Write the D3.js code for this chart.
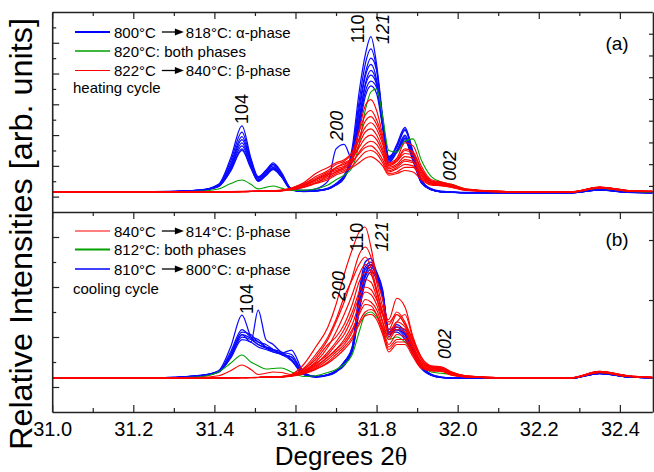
<!DOCTYPE html>
<html><head><meta charset="utf-8">
<script src="https://cdn.jsdelivr.net/npm/d3@7/dist/d3.min.js"></script>
<style>body{margin:0;background:#fff}svg{display:block}</style>
</head><body>
<svg id="c" width="654" height="472"></svg>
<script>
// ---------------- DATA ----------------
const twoTheta = [31.00,31.25,31.36,31.41,31.44,31.468,31.49,31.508,31.527,31.545,31.565,31.59,31.62,31.65,31.68,31.70,31.72,31.74,31.757,31.772,31.786,31.80,31.815,31.83,31.85,31.87,31.89,31.91,31.935,31.96,31.985,32.02,32.12,32.28,32.35,32.42,32.48];
const xTickLabels = ["31.0","31.2","31.4","31.6","31.8","32.0","32.2","32.4"];
const xTickValues = [31.0,31.2,31.4,31.6,31.8,32.0,32.2,32.4];
const xMinorValues = [31.1,31.3,31.5,31.7,31.9,32.1,32.3];

// (a) heating cycle
const heatBlue = [
 [1.3,1.3,1.4,1.8,3.5,5.6,3.5,2.3,2.7,3.2,2.6,1.5,1.35,1.4,1.55,1.8,2.3,4.2,7.8,10.2,11.4,9.6,6.2,3.4,4.4,5.5,3.8,2.1,1.5,1.35,1.3,1.25,1.25,1.25,1.45,1.3,1.25],
 [1.28,1.3,1.38,1.75,3.3,5.2,3.4,2.2,2.6,3.1,2.5,1.45,1.35,1.38,1.5,1.75,2.2,3.9,7.2,9.6,10.6,9.3,6.0,3.5,4.3,5.4,3.9,2.0,1.45,1.3,1.28,1.25,1.27,1.25,1.42,1.28,1.25],
 [1.3,1.32,1.4,1.7,3.1,4.9,3.3,2.25,2.7,3.1,2.5,1.5,1.38,1.4,1.5,1.8,2.3,3.6,6.8,9.0,10.0,9.2,6.0,3.6,4.2,5.3,3.7,2.1,1.5,1.33,1.3,1.27,1.25,1.27,1.45,1.3,1.27],
 [1.27,1.3,1.42,1.7,3.0,4.7,3.2,2.1,2.5,2.9,2.4,1.45,1.33,1.37,1.52,1.85,2.4,3.7,6.5,8.8,9.6,8.6,5.6,3.3,4.0,5.0,3.6,2.0,1.45,1.32,1.28,1.26,1.26,1.26,1.44,1.29,1.26],
 [1.3,1.3,1.4,1.72,2.9,4.5,3.1,2.2,2.6,3.0,2.45,1.5,1.4,1.5,2.0,4.1,4.4,3.4,5.9,8.3,9.2,8.4,5.6,3.2,3.9,4.9,3.5,1.9,1.45,1.3,1.28,1.25,1.25,1.25,1.43,1.3,1.25],
 [1.3,1.31,1.38,1.68,2.8,4.3,3.0,2.05,2.45,2.85,2.35,1.45,1.35,1.36,1.48,1.75,2.2,3.5,6.1,8.2,8.9,8.3,5.7,3.4,3.9,4.8,3.5,2.0,1.48,1.3,1.28,1.26,1.26,1.26,1.46,1.3,1.26],
 [1.29,1.3,1.4,1.65,2.7,4.1,2.9,2.0,2.4,2.8,2.3,1.42,1.34,1.38,1.5,1.8,2.3,3.4,5.7,7.8,8.5,8.1,5.9,3.6,4.0,4.7,3.4,1.95,1.45,1.31,1.28,1.25,1.25,1.25,1.44,1.29,1.25],
 [1.3,1.3,1.4,1.66,2.65,4.0,2.85,2.0,2.35,2.75,2.3,1.45,1.35,1.37,1.5,1.78,2.25,3.3,5.4,7.5,8.2,7.7,5.5,3.5,3.9,4.6,3.3,1.95,1.45,1.3,1.28,1.26,1.26,1.26,1.43,1.29,1.26]
];
const heatGreen = [
 [1.3,1.3,1.35,1.5,1.85,2.08,1.8,1.5,1.6,1.69,1.55,1.4,1.42,1.5,1.75,2.1,2.4,2.9,4.4,6.6,7.8,8.0,6.2,4.0,3.9,4.6,4.75,3.4,2.3,1.95,1.8,1.5,1.3,1.3,1.55,1.35,1.3]
];
const heatRed = [
 [1.3,1.32,1.3,1.32,1.33,1.33,1.35,1.35,1.37,1.38,1.4,1.5,1.75,2.1,2.5,2.8,3.0,3.6,5.3,6.9,7.3,6.6,5.0,3.1,3.4,4.1,3.9,2.8,2.0,1.9,1.75,1.45,1.32,1.3,1.62,1.4,1.35],
 [1.28,1.3,1.3,1.3,1.32,1.33,1.34,1.35,1.36,1.38,1.4,1.55,1.9,2.5,2.9,3.2,3.4,3.9,5.2,6.3,6.6,6.0,4.8,3.2,3.5,4.5,4.3,3.0,2.1,1.95,1.8,1.5,1.33,1.3,1.6,1.38,1.33],
 [1.31,1.3,1.32,1.31,1.33,1.34,1.35,1.36,1.37,1.39,1.42,1.5,1.7,2.0,2.4,2.9,3.1,3.5,4.8,5.9,6.2,5.7,4.6,3.0,3.3,4.0,3.8,2.7,2.0,1.85,1.7,1.45,1.32,1.31,1.6,1.4,1.34],
 [1.3,1.31,1.3,1.32,1.32,1.33,1.34,1.35,1.36,1.38,1.4,1.52,1.8,2.3,2.7,3.1,3.3,3.8,4.7,5.5,5.8,5.4,4.4,3.1,3.3,3.8,3.7,2.8,2.0,1.9,1.75,1.48,1.33,1.3,1.62,1.4,1.35],
 [1.29,1.3,1.31,1.3,1.31,1.32,1.33,1.35,1.36,1.37,1.39,1.5,1.7,2.1,2.5,2.7,2.9,3.4,4.4,5.2,5.4,5.0,4.1,2.9,3.1,3.6,3.5,2.6,1.95,1.85,1.7,1.45,1.32,1.3,1.58,1.38,1.34],
 [1.3,1.3,1.3,1.31,1.32,1.33,1.34,1.35,1.36,1.38,1.41,1.55,1.85,2.2,2.6,2.9,3.2,3.5,4.2,4.8,5.0,4.7,3.9,2.8,3.0,3.4,3.3,2.5,1.9,1.8,1.7,1.45,1.32,1.31,1.6,1.39,1.34],
 [1.31,1.31,1.3,1.3,1.32,1.33,1.33,1.34,1.35,1.37,1.39,1.48,1.65,1.9,2.3,2.6,2.8,3.2,3.9,4.4,4.6,4.4,3.7,2.7,2.9,3.3,3.2,2.4,1.85,1.75,1.65,1.42,1.31,1.3,1.57,1.37,1.33],
 [1.3,1.3,1.31,1.31,1.32,1.32,1.33,1.34,1.35,1.36,1.38,1.5,1.75,2.1,2.4,2.6,2.9,3.3,3.8,4.2,4.3,4.0,3.4,2.6,2.8,3.1,3.0,2.3,1.85,1.78,1.66,1.44,1.32,1.31,1.6,1.38,1.33],
 [1.29,1.3,1.3,1.31,1.31,1.32,1.33,1.34,1.35,1.36,1.38,1.46,1.62,1.9,2.2,2.5,2.7,3.0,3.5,3.9,4.0,3.8,3.2,2.5,2.6,2.9,2.9,2.2,1.8,1.72,1.62,1.42,1.31,1.3,1.56,1.37,1.33],
 [1.3,1.3,1.31,1.3,1.31,1.32,1.33,1.33,1.34,1.35,1.37,1.45,1.6,1.85,2.1,2.4,2.6,2.9,3.2,3.5,3.6,3.4,3.0,2.4,2.5,2.7,2.6,2.1,1.75,1.7,1.6,1.4,1.31,1.3,1.55,1.36,1.32]
];

// (b) cooling cycle
const coolRed = [
 [1.36,1.36,1.37,1.37,1.38,1.38,1.38,1.38,1.39,1.4,1.42,1.5,1.9,2.6,3.4,4.3,5.5,6.5,7.2,7.4,6.6,5.4,4.5,3.6,3.9,3.5,2.9,2.2,1.85,1.8,1.6,1.45,1.37,1.37,1.62,1.45,1.4],
 [1.36,1.36,1.38,1.45,1.65,1.88,1.7,1.5,1.55,1.6,1.58,1.5,1.7,2.2,2.9,3.6,4.4,5.4,6.3,6.6,6.2,5.2,4.2,3.5,4.0,3.6,2.8,2.1,1.8,1.75,1.58,1.44,1.37,1.36,1.6,1.44,1.38],
 [1.37,1.36,1.36,1.37,1.37,1.38,1.38,1.39,1.4,1.4,1.42,1.48,1.75,2.3,3.0,3.7,4.6,5.3,5.9,6.2,5.8,4.9,3.9,3.3,3.9,3.5,2.7,2.0,1.8,1.75,1.55,1.43,1.37,1.37,1.63,1.44,1.39],
 [1.36,1.37,1.36,1.36,1.37,1.37,1.38,1.38,1.39,1.4,1.41,1.46,1.65,2.0,2.6,3.2,3.9,4.7,5.5,5.9,5.6,4.8,4.0,3.2,3.6,3.4,2.6,2.0,1.75,1.72,1.55,1.42,1.36,1.36,1.6,1.43,1.38],
 [1.35,1.36,1.36,1.37,1.37,1.38,1.38,1.38,1.39,1.39,1.41,1.47,1.7,2.1,2.7,3.0,3.5,4.3,5.2,5.6,5.5,4.9,3.9,3.1,3.6,3.9,2.9,2.1,1.78,1.76,1.58,1.44,1.37,1.37,1.62,1.45,1.39],
 [1.36,1.36,1.37,1.36,1.37,1.38,1.37,1.38,1.39,1.4,1.41,1.45,1.6,1.9,2.4,2.8,3.3,4.0,4.8,5.3,5.2,4.6,3.6,2.9,3.3,3.2,2.5,1.9,1.72,1.7,1.52,1.42,1.36,1.36,1.6,1.43,1.38],
 [1.36,1.36,1.36,1.37,1.37,1.37,1.38,1.38,1.39,1.39,1.41,1.46,1.62,1.95,2.3,2.7,3.1,3.8,4.6,5.0,4.9,4.5,3.9,3.7,4.55,4.2,3.0,2.2,1.82,1.8,1.6,1.45,1.37,1.37,1.63,1.45,1.39],
 [1.36,1.36,1.37,1.37,1.37,1.38,1.38,1.38,1.38,1.39,1.4,1.45,1.58,1.8,2.2,2.5,2.9,3.5,4.3,4.8,4.7,4.3,3.6,3.0,3.4,3.3,2.6,1.95,1.75,1.7,1.54,1.42,1.37,1.36,1.6,1.44,1.38],
 [1.36,1.36,1.36,1.36,1.37,1.37,1.38,1.38,1.39,1.39,1.4,1.44,1.55,1.75,2.1,2.4,2.7,3.2,4.0,4.5,4.4,4.1,3.4,2.7,3.1,3.0,2.4,1.85,1.7,1.68,1.5,1.41,1.36,1.36,1.58,1.43,1.37],
 [1.36,1.37,1.37,1.37,1.37,1.38,1.38,1.38,1.39,1.4,1.41,1.45,1.6,1.85,2.2,2.5,2.8,3.3,3.9,4.3,4.25,3.9,3.2,2.6,2.9,2.9,2.3,1.8,1.68,1.66,1.5,1.41,1.37,1.37,1.6,1.44,1.38],
 [1.36,1.36,1.36,1.37,1.37,1.37,1.38,1.38,1.38,1.39,1.4,1.43,1.52,1.7,2.0,2.3,2.6,3.0,3.6,4.0,4.1,3.9,3.3,2.5,2.8,2.8,2.3,1.8,1.66,1.64,1.48,1.4,1.36,1.36,1.58,1.42,1.37],
 [1.36,1.36,1.37,1.36,1.37,1.38,1.37,1.38,1.39,1.39,1.4,1.44,1.55,1.72,1.95,2.2,2.5,2.9,3.5,3.85,3.9,3.7,3.1,2.4,2.7,2.7,2.2,1.75,1.64,1.62,1.47,1.4,1.36,1.36,1.58,1.42,1.37]
];
const coolGreen = [
 [1.36,1.36,1.4,1.6,1.95,2.28,2.0,1.85,1.72,1.74,1.76,1.6,1.42,1.45,1.58,1.7,1.9,2.3,3.2,3.9,4.0,3.8,3.4,2.9,3.0,2.8,2.4,1.9,1.6,1.55,1.5,1.42,1.36,1.36,1.58,1.42,1.37]
];
const coolBlue = [
 [1.36,1.37,1.45,1.65,2.6,3.88,3.0,2.7,2.6,2.5,2.3,2.2,1.55,1.42,1.5,1.65,1.9,2.6,4.8,6.0,6.15,5.6,4.8,3.2,3.4,3.3,2.6,1.9,1.5,1.4,1.37,1.36,1.35,1.35,1.55,1.4,1.36],
 [1.36,1.37,1.45,1.6,2.2,3.1,2.8,4.08,2.9,2.7,2.4,2.3,1.55,1.42,1.48,1.62,1.85,2.5,4.6,5.8,6.0,5.5,4.7,3.1,3.3,3.2,2.5,1.85,1.5,1.4,1.37,1.36,1.35,1.35,1.55,1.4,1.36],
 [1.36,1.36,1.44,1.6,2.4,3.3,3.0,2.9,2.6,2.5,2.4,2.1,1.5,1.4,1.48,1.6,2.0,2.6,4.5,5.7,5.9,5.4,4.6,3.0,3.5,3.2,2.5,1.8,1.48,1.38,1.36,1.36,1.35,1.35,1.54,1.4,1.36],
 [1.37,1.37,1.46,1.62,2.3,3.2,3.1,2.8,2.7,2.5,2.3,2.2,1.52,1.42,1.5,1.65,2.0,2.5,4.3,5.5,5.8,5.5,4.8,3.3,3.4,3.1,2.4,1.8,1.48,1.38,1.36,1.35,1.35,1.36,1.56,1.4,1.36],
 [1.36,1.36,1.43,1.58,2.2,3.0,2.9,2.7,2.55,2.45,2.35,2.1,1.5,1.4,1.46,1.6,1.95,2.4,4.1,5.4,5.7,5.3,4.6,3.1,3.3,3.0,2.4,1.8,1.47,1.38,1.36,1.36,1.35,1.35,1.55,1.4,1.36],
 [1.36,1.37,1.44,1.6,2.15,2.9,2.8,2.6,2.5,2.4,2.3,2.05,1.5,1.41,1.47,1.62,2.0,2.5,4.0,5.2,5.6,5.4,4.7,3.2,3.2,2.9,2.3,1.75,1.46,1.37,1.36,1.35,1.35,1.35,1.54,1.4,1.36],
 [1.36,1.36,1.45,1.62,2.3,3.1,2.95,2.8,2.6,2.4,2.35,2.48,1.6,1.42,1.48,1.63,1.95,2.45,4.2,5.5,5.9,5.6,4.9,3.2,3.3,3.1,2.5,1.85,1.5,1.38,1.36,1.36,1.35,1.35,1.55,1.4,1.36]
];

// left-axis tick values (arb. units) and right-axis tick values
const topLeftMajor = [1,3,5,7,9,11];
const topLeftMinor = [2,4,6,8,10,12];
const botLeftMajor = [1,3,5,7];
const botLeftMinor = [2,4,6];
const topRightTicks = [1,2,3,4,5,6,7,8];
const botRightTicks = [1,2,3];

// peak labels: position = centre of the rotated text
const peakLabelsTop = [
  {t:"104", x:31.4675, y:6.7, it:false},
  {t:"200", x:31.702, y:5.6, it:true},
  {t:"110", x:31.753, y:11.9, it:false},
  {t:"121", x:31.816, y:11.9, it:true},
  {t:"002", x:31.981, y:3.0, it:true}
];
const peakLabelsBot = [
  {t:"104", x:31.4805, y:4.52, it:false},
  {t:"200", x:31.707, y:5.04, it:true},
  {t:"110", x:31.752, y:7.0, it:false},
  {t:"121", x:31.813, y:7.02, it:true},
  {t:"002", x:31.969, y:2.72, it:true}
];

const legendTop = [
  {c:"#0000ff", w:2.2, a:"800°C", b:"818°C: α-phase"},
  {c:"#00a000", w:1.5, a:"820°C: both phases", b:null},
  {c:"#ff0000", w:1.2, a:"822°C", b:"840°C: β-phase"}
];
const legendBot = [
  {c:"#ff0000", w:1.2, a:"840°C", b:"814°C: β-phase"},
  {c:"#00a000", w:2.0, a:"812°C: both phases", b:null},
  {c:"#0000ff", w:1.5, a:"810°C", b:"800°C: α-phase"}
];

// ---------------- DRAW ----------------
const FONT = "'Liberation Sans', Arial, Helvetica, sans-serif";
const svg = d3.select("#c");
const L = 52.2, R = 653;
const x = d3.scaleLinear().domain([31.0, 32.48]).range([L, 652.3]);
const yTop = d3.scaleLinear().domain([0, 13]).range([212, 12]);
const yBot = d3.scaleLinear().domain([0, 8]).range([412, 212]);
const yTopR = d3.scaleLinear().domain([-0.2, 9.0]).range([212, 12]);
const yBotR = d3.scaleLinear().domain([0.133, 3.467]).range([412, 212]);

const defs = svg.append("defs");
defs.append("clipPath").attr("id","clipT").append("rect").attr("x",L).attr("y",12).attr("width",R-L).attr("height",200);
defs.append("clipPath").attr("id","clipB").append("rect").attr("x",L).attr("y",212).attr("width",R-L).attr("height",200);

function drawSeries(g, y, sets) {
  const line = d3.line().x((d,i)=>x(twoTheta[i])).y(d=>y(d)).curve(d3.curveMonotoneX);
  sets.forEach(([arr,color,w])=>{
    g.selectAll(null).data(arr).enter().append("path")
      .attr("d", line).attr("fill","none").attr("stroke",color)
      .attr("stroke-width",w).attr("stroke-linejoin","round");
  });
}
drawSeries(svg.append("g").attr("clip-path","url(#clipT)"), yTop,
  [[heatBlue,"#0a0aff",1.25],[heatGreen,"#00a000",1.1],[heatRed,"#ff0000",1.15]]);
drawSeries(svg.append("g").attr("clip-path","url(#clipB)"), yBot,
  [[coolBlue,"#0a0aff",1.25],[coolGreen,"#00a000",1.1],[coolRed,"#ff0000",1.15]]);

// axes
const axCol = "#222";
function styleAxis(g){ g.select(".domain").attr("stroke",axCol).attr("stroke-width",1.6);
  g.selectAll(".tick line").attr("stroke",axCol).attr("stroke-width",1.2); }

const gb = svg.append("g").attr("transform","translate(0,412)")
  .call(d3.axisBottom(x).tickValues(xTickValues).tickFormat((d,i)=>xTickLabels[i]).tickSizeInner(-7).tickSizeOuter(0).tickPadding(10));
styleAxis(gb);
gb.selectAll("text").attr("font-family",FONT).attr("font-size",20).attr("fill","#000");
const gbm = svg.append("g").attr("transform","translate(0,412)")
  .call(d3.axisBottom(x).tickValues(xMinorValues).tickFormat("").tickSizeInner(-4).tickSizeOuter(0));
styleAxis(gbm); gbm.select(".domain").remove();

[12,212].forEach(yy=>{
  const g1 = svg.append("g").attr("transform",`translate(0,${yy})`)
    .call(d3.axisTop(x).tickValues(xTickValues).tickFormat("").tickSizeInner(-7).tickSizeOuter(0));
  styleAxis(g1);
  const g2 = svg.append("g").attr("transform",`translate(0,${yy})`)
    .call(d3.axisTop(x).tickValues(xMinorValues).tickFormat("").tickSizeInner(-4).tickSizeOuter(0));
  styleAxis(g2); g2.select(".domain").remove();
});

function leftAxis(y, major, minor){
  const g1 = svg.append("g").attr("transform",`translate(${L},0)`)
    .call(d3.axisLeft(y).tickValues(major).tickFormat("").tickSizeInner(-7).tickSizeOuter(0));
  styleAxis(g1);
  const g2 = svg.append("g").attr("transform",`translate(${L},0)`)
    .call(d3.axisLeft(y).tickValues(minor).tickFormat("").tickSizeInner(-4).tickSizeOuter(0));
  styleAxis(g2); g2.select(".domain").remove();
}
leftAxis(yTop, topLeftMajor, topLeftMinor);
leftAxis(yBot, botLeftMajor, botLeftMinor);

function rightAxis(y, ticks){
  const g = svg.append("g").attr("transform",`translate(${R},0)`)
    .call(d3.axisRight(y).tickValues(ticks).tickFormat("").tickSizeInner(-4).tickSizeOuter(0));
  styleAxis(g);
}
rightAxis(yTopR, topRightTicks);
rightAxis(yBotR, botRightTicks);

function peakLabels(labels, y){
  svg.append("g").selectAll("text").data(labels).enter().append("text")
    .attr("transform", d=>`translate(${x(d.x)},${y(d.y)}) rotate(-90)`)
    .attr("text-anchor","middle")
    .attr("dominant-baseline","central")
    .attr("font-family",FONT).attr("font-size",18)
    .attr("font-style", d=>d.it?"italic":"normal")
    .text(d=>d.t);
}
peakLabels(peakLabelsTop, yTop);
peakLabels(peakLabelsBot, yBot);

function legend(items, rows, capY, caption){
  const g = svg.append("g").attr("font-family",FONT).attr("font-size",15);
  items.forEach((it,i)=>{
    const yc = rows[i];
    g.append("line").attr("x1",75).attr("x2",110).attr("y1",yc).attr("y2",yc)
      .attr("stroke",it.c).attr("stroke-width",it.w);
    const t1 = g.append("text").attr("x",114).attr("y",yc+5.5).text(it.a);
    if (it.b) {
      const w = t1.node().getComputedTextLength();
      const ax = 114 + w + 6;
      g.append("line").attr("x1",ax).attr("x2",ax+15).attr("y1",yc).attr("y2",yc)
        .attr("stroke","#000").attr("stroke-width",1.3);
      g.append("path").attr("d",`M${ax+13},${yc-3.5}L${ax+22},${yc}L${ax+13},${yc+3.5}Z`).attr("fill","#000");
      g.append("text").attr("x",ax+24).attr("y",yc+5.5).text(it.b);
    }
  });
  g.append("text").attr("x",73).attr("y",capY).text(caption);
}
legend(legendTop, [32,51,70.5], 93, "heating cycle");
legend(legendBot, [231,249.5,269], 293.5, "cooling cycle");

svg.append("text").attr("x",617).attr("y",50).attr("text-anchor","middle")
  .attr("font-family",FONT).attr("font-size",19).text("(a)");
svg.append("text").attr("x",617).attr("y",246).attr("text-anchor","middle")
  .attr("font-family",FONT).attr("font-size",19).text("(b)");

svg.append("text").attr("transform","translate(21,234) rotate(-90)")
  .attr("text-anchor","middle").attr("dominant-baseline","central")
  .attr("font-family",FONT).attr("font-size",31)
  .attr("textLength",432).attr("lengthAdjust","spacingAndGlyphs")
  .text("Relative Intensities [arb. units]");
const xt = svg.append("text").attr("x",341).attr("y",465)
  .attr("text-anchor","middle")
  .attr("font-family",FONT).attr("font-size",26);
xt.append("tspan").text("Degrees 2");
xt.append("tspan").attr("font-family","'Liberation Serif', 'DejaVu Serif', serif").text("θ");
</script>
</body></html>
